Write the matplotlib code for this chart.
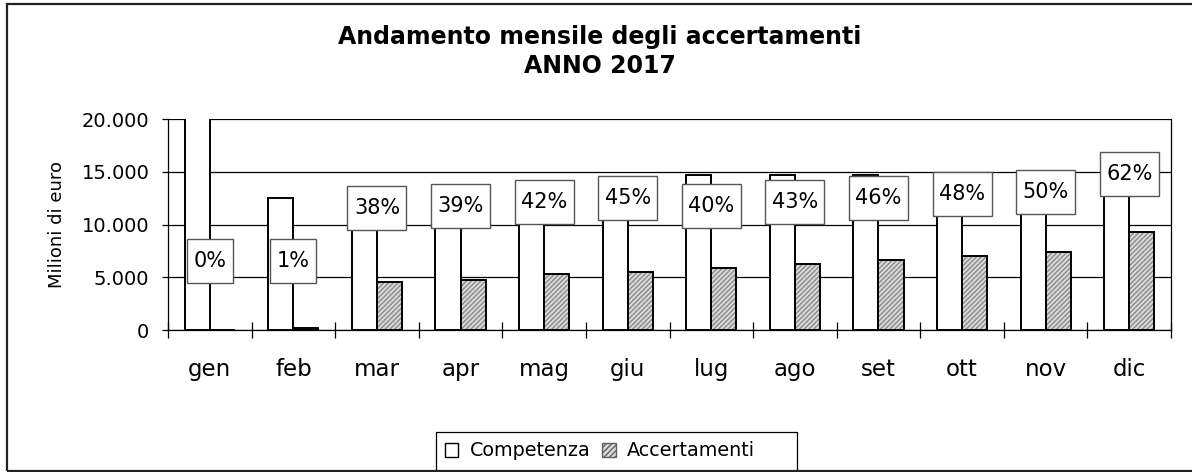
import matplotlib
matplotlib.use('Agg')
import matplotlib.pyplot as plt
from matplotlib.patches import Patch, Rectangle
from matplotlib.path import Path
from matplotlib.ticker import FuncFormatter, FixedLocator
import numpy as np

# dati (milioni di euro)
mesi = ['gen', 'feb', 'mar', 'apr', 'mag', 'giu', 'lug', 'ago', 'set', 'ott', 'nov', 'dic']
competenza = [24000, 12500, 11900, 12100, 12700, 12250, 14750, 14750, 14750, 14700, 14880, 15060]
accertamenti = [0, 150, 4530, 4720, 5350, 5510, 5860, 6300, 6650, 7060, 7440, 9340]
percentuali = [0, 1, 38, 39, 42, 45, 40, 43, 46, 48, 50, 62]
# altezza delle etichette percentuali (in milioni, come nel grafico)
pos_etichette = [6530, 6530, 11560, 11750, 12140, 12540, 11750, 12140, 12540, 12890, 13110, 14820]

W, H = 1192, 472
fig = plt.figure(figsize=(W / 100, H / 100), dpi=100)
ax = fig.add_axes([168 / W, 1 - 330 / H, (1171 - 168) / W, (330 - 119.3) / H])

x = np.arange(len(mesi))
larg = 0.3


def riquadro(x0, y0, width, height, mutation_size):
    # riquadro rettangolare con margine verticale piu' alto di quello orizzontale
    px, py = 0.31 * mutation_size, 0.58 * mutation_size
    x0, y0 = x0 - px, y0 - py
    x1, y1 = x0 + width + 2 * px, y0 + height + 2 * py
    return Path([(x0, y0), (x1, y0), (x1, y1), (x0, y1), (x0, y0)], closed=True)


# barre competenza (bianche)
ax.bar(x - larg, competenza, width=larg, align='edge', color='white',
       edgecolor='black', linewidth=1.4, zorder=2)
# barre accertamenti: prima il tratteggio, poi il bordo nero
ax.bar(x, accertamenti, width=larg, align='edge', color='#dadada',
       edgecolor='#8a8a8a', hatch='///////', linewidth=0, zorder=2)
ax.bar(x, accertamenti, width=larg, align='edge', fill=False,
       edgecolor='black', linewidth=1.4, zorder=3)

# etichette percentuali
for xi, yi, p in zip(x, pos_etichette, percentuali):
    ax.text(xi, yi, f'{p}%', ha='center', va='center', fontsize=15, zorder=5,
            bbox=dict(boxstyle=riquadro, facecolor='white',
                      edgecolor='#555555', linewidth=1.0))

ax.set_xlim(-0.5, len(mesi) - 0.5)
ax.set_ylim(0, 20000)

# assi e griglia
ax.set_axisbelow(True)
ax.yaxis.grid(True, color='black', linewidth=0.9, zorder=0)
ax.spines['top'].set_visible(False)
for s in ['left', 'right', 'bottom']:
    ax.spines[s].set_color('black')
    ax.spines[s].set_linewidth(0.9)
ax.spines['right'].set_zorder(1)

ax.set_yticks([0, 5000, 10000, 15000, 20000])
ax.yaxis.set_major_formatter(FuncFormatter(lambda v, p: f'{int(v):,}'.replace(',', '.')))
ax.tick_params(axis='y', direction='out', length=4.5, width=0.9, labelsize=14, pad=9)

ax.set_xticks(x)
ax.set_xticklabels(mesi)
ax.tick_params(axis='x', which='major', length=0, labelsize=16.5, pad=20)
ax.xaxis.set_minor_locator(FixedLocator(np.arange(-0.5, len(mesi), 1.0)))
ax.tick_params(axis='x', which='minor', direction='inout', length=11.5, width=0.9)

fig.text(57 / W, 1 - 224 / H, 'Milioni di euro', rotation=90, ha='center', va='center',
         fontsize=13)

fig.text(0.503, 1 - 37 / H, 'Andamento mensile degli accertamenti', ha='center', va='center',
         fontsize=17, fontweight='bold')
fig.text(0.503, 1 - 66 / H, 'ANNO 2017', ha='center', va='center',
         fontsize=17, fontweight='bold')

# legenda (la cornice e' disegnata a parte, piu' larga come in Excel)
maniglie = [Patch(facecolor='white', edgecolor='black', linewidth=1.0),
            Patch(facecolor='#dadada', edgecolor='#606060', hatch='//////', linewidth=1.0)]
leg = fig.legend(maniglie, ['Competenza', 'Accertamenti'], loc='center left',
                 bbox_to_anchor=(445 / W, 1 - 451 / H), ncol=2, fontsize=13.8,
                 frameon=False, handlelength=0.7, handleheight=0.7,
                 handletextpad=0.6, columnspacing=0.6, borderpad=0, borderaxespad=0)
fig.add_artist(Rectangle((436 / W, 0.6 / H), (797 - 436) / W, (471.4 - 431.7) / H,
                         transform=fig.transFigure, fill=False, edgecolor='black',
                         linewidth=0.9))

# cornice esterna del grafico
fig.add_artist(Rectangle((7 / W, 0.6 / H), 2, (H - 4 - 0.6) / H, transform=fig.transFigure,
                         fill=False, edgecolor='#222222', linewidth=1.6))

fig.savefig('out.png', dpi=100)
